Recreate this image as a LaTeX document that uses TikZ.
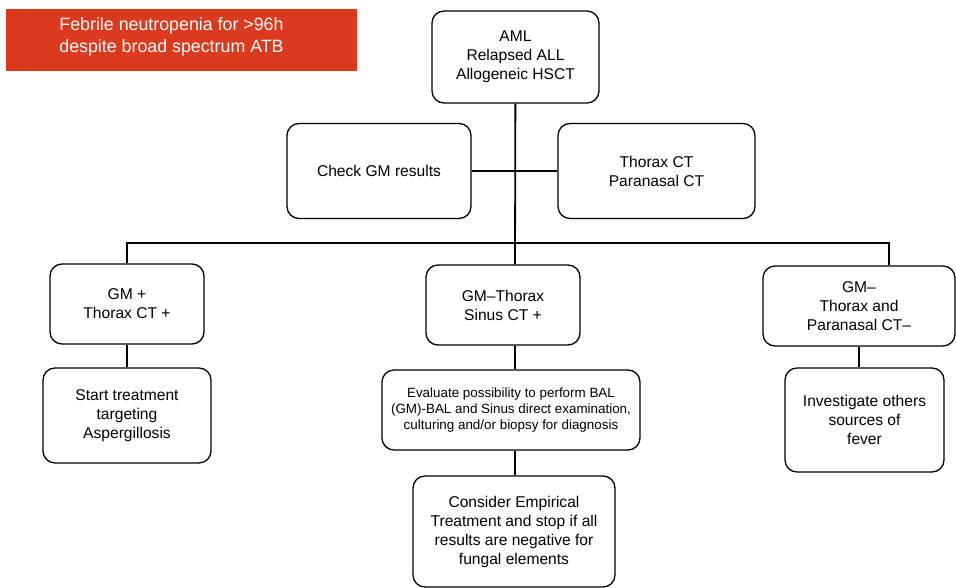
\documentclass[tikz,border=0pt]{standalone}
\usepackage{fontspec}
\setmainfont{Liberation Sans}
\usepackage{xcolor}
\usepackage{tikz}
\usetikzlibrary{positioning}

\definecolor{alertred}{RGB}{220,58,30}

\begin{document}
\begin{tikzpicture}[
          x=1pt, y=-1pt,
          box/.style={rectangle, draw, line width=1.3pt, rounded corners=12pt, align=center,
            font=\fontsize{15.6}{19}\selectfont, inner sep=2pt},
          smallbox/.style={box, font=\fontsize{13.4}{16}\selectfont},
          redbox/.style={rectangle, fill=alertred},
          redtext/.style={text=white, align=center, font=\fontsize{17.8}{22}\selectfont},
          link/.style={draw, line width=1.8pt}
        ]
          \useasboundingbox (0,0) rectangle (956,588);
          \node (fever) [redbox, minimum width=351pt, minimum height=62pt,
            label={[redtext, xshift=-10pt, yshift=3pt]center:{Febrile neutropenia for >96h\\despite broad spectrum ATB}}]
            at (181.5,40) {};
          \node (aml) [box, minimum width=167pt, minimum height=92pt] at (515.5,57)
            {AML\\Relapsed ALL\\Allogeneic HSCT};
          \node (checkgm) [box, minimum width=184pt, minimum height=95pt] at (379,171)
            {Check GM results};
          \node (thoraxct) [box, minimum width=197pt, minimum height=95pt] at (656.5,171)
            {Thorax CT\\Paranasal CT};
          \node (gmpos) [box, minimum width=154pt, minimum height=80pt] at (127,304)
            {GM +\\Thorax CT +};
          \node (gmsinus) [box, minimum width=154pt, minimum height=80pt] at (503,305)
            {GM–Thorax\\Sinus CT +};
          \node (gmneg) [box, minimum width=192pt, minimum height=80pt] at (859,306)
            {GM–\\Thorax and\\Paranasal CT–};
          \node (treat) [box, minimum width=168pt, minimum height=95pt] at (127,415.5)
            {Start treatment\\targeting\\Aspergillosis};
          \node (evaluate) [smallbox, minimum width=258pt, minimum height=80pt] at (511,410)
            {Evaluate possibility to perform BAL\\(GM)-BAL and Sinus direct examination,\\culturing and/or biopsy for diagnosis};
          \node (empirical) [box, minimum width=202pt, minimum height=111pt] at (514,531.5)
            {Consider Empirical\\Treatment and stop if all\\results are negative for\\fungal elements};
          \node (others) [box, minimum width=159pt, minimum height=104pt] at (864.5,420)
            {Investigate others\\sources of\\fever};

          \coordinate (split) at (515,243);
          \coordinate (barleft) at (127,243);
          \coordinate (barright) at (889,243);

          \draw[link] (aml) -- (split |- gmsinus.north);
          \draw[link] (checkgm) -- (checkgm -| split);
          \draw[link] (thoraxct) -- (thoraxct -| split);
          \draw[link] (gmpos) -- (barleft) -- (barright) -- (barright |- gmneg.north);
          \draw[link] (gmpos) -- (treat);
          \draw[link] (split |- gmsinus.south) -- (split |- evaluate.north);
          \draw[link] (split |- evaluate.south) -- (split |- empirical.north);
          \draw[link] (gmneg.south) -- (gmneg.south |- others.north);
        \end{tikzpicture}
\end{document}
